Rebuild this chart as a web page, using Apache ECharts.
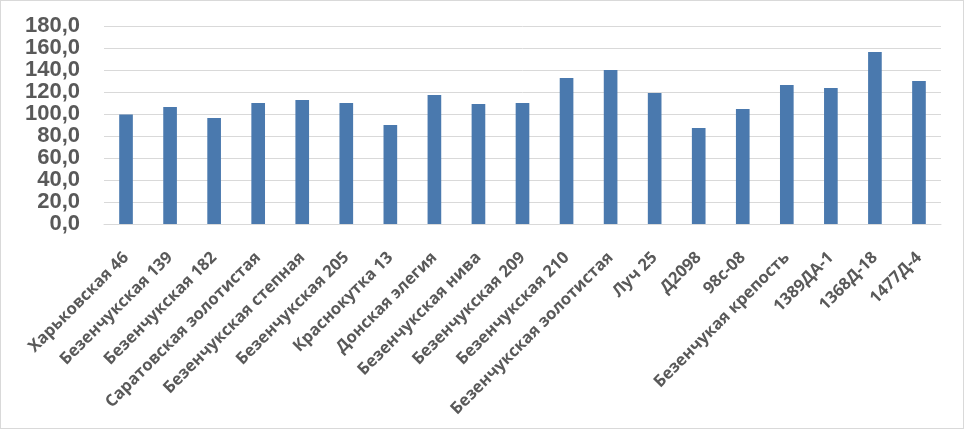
<!DOCTYPE html>
<html>
<head>
<meta charset="utf-8">
<script src="https://cdn.jsdelivr.net/npm/echarts@6/dist/echarts.min.js"></script>
<style>
  html, body { margin: 0; padding: 0; background: #fff; }
  #chart {
    width: 962px;
    height: 427px;
    border: 1px solid #d9d9d9;
  }
</style>
</head>
<body>
<div id="chart"></div>
<script>
// сорта
const varieties = [
  "Харьковская 46", "Безенчукская 139", "Безенчукская 182",
  "Саратовская золотистая", "Безенчукская степная", "Безенчукская 205",
  "Краснокутка 13", "Донская элегия", "Безенчукская нива",
  "Безенчукская 209", "Безенчукская 210", "Безенчукская золотистая",
  "Луч 25", "Д2098", "98с-08", "Безенчукая крепость",
  "1389ДА-1", "1368Д-18", "1477Д-4"
];
// значения
const values = [
  99.5, 106.4, 96.4, 110.0, 112.7, 110.0, 90.0, 117.3, 109.1,
  110.0, 132.7, 140.0, 119.1, 87.3, 104.5, 126.4, 123.6, 156.4, 130.0
];
// шкала
const yMin = 0;
const yMax = 180;
const yStep = 20;

const chart = echarts.init(document.getElementById("chart"));
chart.setOption({
  animation: false,
  textStyle: { fontFamily: "Liberation Sans, Arial, sans-serif" },
  grid: { left: 103, right: 22, top: 25, bottom: 204 },
  xAxis: {
    type: "category",
    data: varieties,
    axisLine: { lineStyle: { color: "#d9d9d9", width: 1 } },
    axisTick: { show: false },
    axisLabel: {
      interval: 0,
      rotate: 45,
      margin: 31,
      color: "#595959",
      fontFamily: "Open Sans",
      fontSize: 16.5,
      fontWeight: "bold"
    }
  },
  yAxis: {
    type: "value",
    min: yMin,
    max: yMax,
    interval: yStep,
    axisLine: { show: false },
    axisTick: { show: false },
    splitLine: { lineStyle: { color: "#d9d9d9", width: 1 } },
    axisLabel: {
      margin: 24,
      color: "#595959",
      fontSize: 22,
      fontWeight: "bold",
      formatter: v => v.toFixed(1).replace(".", ",")
    }
  },
  series: [{
    type: "bar",
    data: values,
    barWidth: "31%",
    itemStyle: { color: "#4a79ae" }
  }]
});
</script>
</body>
</html>
